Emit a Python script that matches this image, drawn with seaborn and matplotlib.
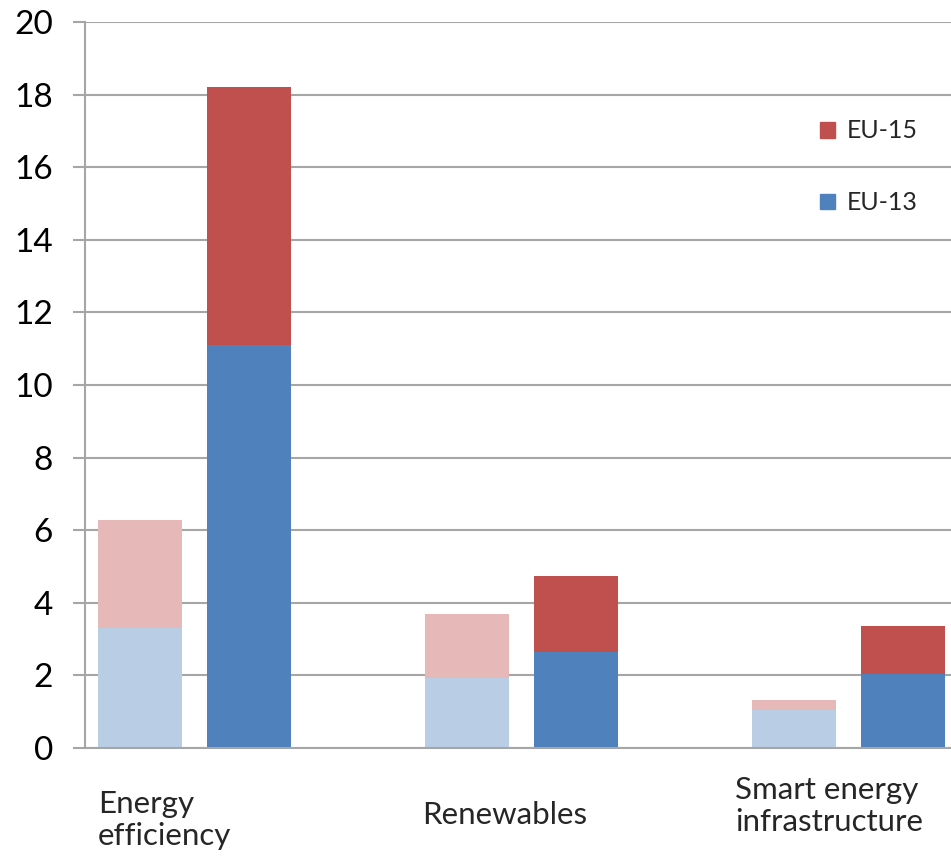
import numpy as np
import pandas as pd
import seaborn as sns
import matplotlib.pyplot as plt
from matplotlib.patches import Patch
from matplotlib.transforms import blended_transform_factory

# data
categories = ["Energy\nefficiency", "Renewables", "Smart energy\ninfrastructure"]
periods = ["earlier", "later"]
eu13_earlier = [3.3, 1.93, 1.05]
eu15_earlier = [2.97, 1.76, 0.27]
eu13_later = [11.1, 2.64, 2.04]
eu15_later = [7.1, 2.1, 1.32]

dark_red, dark_blue = "#C0504D", "#4F81BD"
light_red, light_blue = "#E6B9B8", "#B9CDE5"
grid_grey = "#A6A6A6"


def main():
    sns.set_theme(style="white")
    plt.rcParams["font.family"] = ["Lato", "DejaVu Sans"]

    rows = []
    for i, cat in enumerate(categories):
        rows.append({"category": cat, "period": periods[0], "eu13": eu13_earlier[i],
                     "total": eu13_earlier[i] + eu15_earlier[i]})
        rows.append({"category": cat, "period": periods[1], "eu13": eu13_later[i],
                     "total": eu13_later[i] + eu15_later[i]})
    df = pd.DataFrame(rows)

    fig = plt.figure(figsize=(9.51, 8.6), dpi=100)
    ax = fig.add_axes([85 / 951, 112 / 860, 866 / 951, 726 / 860])

    # stacked: full height in red first, then the EU-13 share in blue on top
    sns.barplot(data=df, x="category", y="total", hue="period", order=categories,
                palette={periods[0]: light_red, periods[1]: dark_red},
                width=0.666, gap=0.229, saturation=1, linewidth=0, legend=False, ax=ax)
    sns.barplot(data=df, x="category", y="eu13", hue="period", order=categories,
                palette={periods[0]: light_blue, periods[1]: dark_blue},
                width=0.666, gap=0.229, saturation=1, linewidth=0, legend=False, ax=ax)

    ax.set_xlim(-0.335, 2.313)
    ax.set_ylim(0, 20)
    ax.set_yticks(np.arange(0, 21, 2))
    ax.set_xticks([])
    ax.set_xlabel("")
    ax.set_ylabel("")
    ax.set_axisbelow(True)
    ax.yaxis.grid(True, color=grid_grey, linewidth=1.5)
    ax.tick_params(axis="y", left=True, length=9, width=1.5, color=grid_grey,
                   pad=14, labelsize=24, labelcolor="black")
    for side in ["top", "right"]:
        ax.spines[side].set_visible(False)
    for side in ["left", "bottom"]:
        ax.spines[side].set_color(grid_grey)
        ax.spines[side].set_linewidth(1.5)

    # category names sit left-aligned under each pair
    trans = blended_transform_factory(ax.transData, fig.transFigure)
    label_x = [-0.295, 0.696, 1.653]
    label_y = [820, 815, 806]
    for x, y, name in zip(label_x, label_y, categories):
        ax.text(x, 1 - y / 860, name, transform=trans,
                ha="left", va="center", fontsize=22.5, linespacing=1.15)

    handles = [Patch(color=dark_red, label="EU-15"), Patch(color=dark_blue, label="EU-13")]
    fig.legend(handles=handles, loc="upper left", bbox_to_anchor=(797 / 951, 1 - 97 / 860),
               frameon=False, fontsize=18, handlelength=0.6, handleheight=0.6,
               handletextpad=0.5, labelspacing=1.95)

    fig.savefig("out.png", dpi=100)


if __name__ == "__main__":
    main()
